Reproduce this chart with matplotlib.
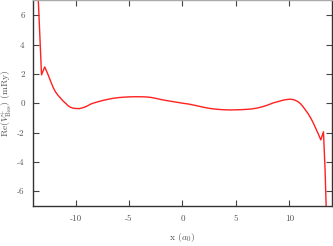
import numpy as np
import matplotlib
matplotlib.use('Agg')
import matplotlib.pyplot as plt

x = [-13.6, -13.5, -13.35, -13.2, -12.9, -12.6, -12.35, -12.1, -11.9,
     -11.66, -11.4, -11.2, -10.95, -10.7, -10.5, -10.26, -10.0, -9.64,
     -9.3, -9.0, -8.5, -8.0, -7.5, -7.0, -6.5, -6.0, -5.5, -5.0, -4.5, -4.0, -3.5,
     -3.0, -2.5, -2.0, -1.5, -1.0, -0.5, 0.0, 0.5, 1.0, 1.5, 2.0, 2.5, 3.0,
     3.5, 4.0, 4.5, 5.0, 5.5, 6.0, 6.5, 7.0, 7.5, 8.0, 8.5, 9.0, 9.5, 10.0,
     10.25, 10.5, 10.75, 11.0, 11.25, 11.5, 11.75, 12.0, 12.25, 12.5, 12.75,
     12.95, 13.2, 13.35, 13.45, 13.5]
re_v = [8.5, 7.0, 4.5, 1.93, 2.47, 1.97, 1.5, 1.06, 0.78,
        0.54, 0.33, 0.16, 0.0, -0.18, -0.27, -0.34, -0.36, -0.37,
        -0.3, -0.22, -0.03, 0.08, 0.18, 0.26, 0.33, 0.38, 0.41, 0.43, 0.44, 0.44, 0.43,
        0.40, 0.33, 0.25, 0.18, 0.12, 0.06, 0.0, -0.05, -0.12, -0.2, -0.28, -0.35, -0.40,
        -0.43, -0.45, -0.46, -0.45, -0.44, -0.42, -0.39, -0.33, -0.24, -0.12, 0.02, 0.12, 0.22, 0.27,
        0.26, 0.22, 0.13, 0.0, -0.2, -0.45, -0.7, -1.0, -1.35, -1.75, -2.15,
        -2.5, -1.95, -4.5, -7.0, -8.5]
xticks = [-10, -5, 0, 5, 10]
yticks = [-6, -4, -2, 0, 2, 4, 6]

plt.rcParams['font.family'] = 'serif'
plt.rcParams['font.serif'] = ['cmr10', 'DejaVu Serif']
plt.rcParams['mathtext.fontset'] = 'cm'
plt.rcParams['axes.unicode_minus'] = False
plt.rcParams['axes.formatter.use_mathtext'] = True

txt = '#555555'
fig = plt.figure(figsize=(3.33, 2.46), dpi=100)
ax = fig.add_axes([0.099, 0.163, 0.898, 0.835])
ax.plot(x, re_v, color='#ff2020', lw=1.0)
ax.set_xlim(-14, 14)
ax.set_ylim(-7, 7)
ax.set_xticks(xticks)
ax.set_yticks(yticks)
ax.set_xticklabels([str(t) for t in xticks])
ax.set_yticklabels([str(t) for t in yticks])
ax.tick_params(direction='in', length=4, width=0.8, colors='#444444',
               labelcolor=txt, labelsize=6.5, top=True, right=True, pad=6)
for s in ['left', 'bottom', 'right']:
    ax.spines[s].set_color('#333333')
ax.spines['top'].set_color('#aaaaaa')
for s in ax.spines.values():
    s.set_linewidth(1.0)
ax.set_xlabel(r'x ($a_0$)', fontsize=7, color=txt, labelpad=6)
ax.set_ylabel(r'Re($V^{+}_{\rm Bss}$) (mRy)', fontsize=7, color=txt)
ax.yaxis.set_label_coords(-0.062, 0.5)
fig.savefig('out.png', dpi=100)
